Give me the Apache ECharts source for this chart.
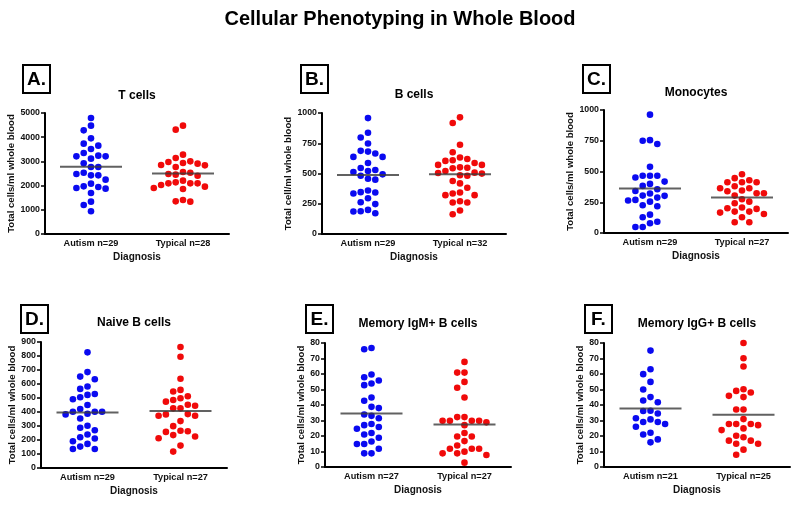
<!DOCTYPE html>
<html><head><meta charset="utf-8">
<script src="https://cdn.jsdelivr.net/npm/echarts@6/dist/echarts.min.js"></script>
<style>html,body{margin:0;padding:0;background:#fff}#c{width:800px;height:505px}</style>
</head><body><div id="c"></div>
<script>
// ---------- data ----------
const mainTitle = 'Cellular Phenotyping in Whole Blood';
const panelTitles = ['T cells', 'B cells', 'Monocytes', 'Naive B cells', 'Memory IgM+ B cells', 'Memory IgG+ B cells'];
const panelLetters = ['A.', 'B.', 'C.', 'D.', 'E.', 'F.'];
const yAxisNames = ['Total cells/ml whole blood', 'Total cell/ml whole blood', 'Total cells/ml whole blood',
  'Total cells/ml whole blood', 'Total cells/ml whole blood', 'Total cells/ml whole blood'];
const xAxisName = 'Diagnosis';
const categories = [
  ['Autism n=29', 'Typical n=28'],
  ['Autism n=29', 'Typical n=32'],
  ['Autism n=29', 'Typical n=27'],
  ['Autism n=29', 'Typical n=27'],
  ['Autism n=27', 'Typical n=27'],
  ['Autism n=21', 'Typical n=25']
];
const yMax = [5000, 1000, 1000, 900, 80, 80];
const yStep = [1000, 250, 250, 100, 10, 10];

const autismA = [4793,4477,4284,3953,3733,3650,3512,3347,3237,3209,3209,3113,2920,2769,2769,2534,2479,2424,2424,2245,2080,1970,1942,1901,1873,1694,1336,1198,937];
const typicalA = [4477,4311,3278,3140,3003,2975,2934,2906,2851,2837,2769,2562,2534,2479,2452,2410,2204,2135,2094,2094,2094,2025,1956,1901,1860,1405,1350,1336];
const linesA = [2780, 2505];

const autismB = [958,837,798,748,687,681,665,637,637,587,546,529,521,512,493,482,457,449,360,346,343,335,296,263,247,199,188,186,172];
const typicalB = [964,917,737,676,632,620,609,604,587,571,571,551,548,543,521,507,504,499,485,482,438,418,382,343,335,321,321,271,260,260,194,163];
const linesB = [488, 493];

const autismC = [962,755,750,723,538,465,465,465,451,418,399,383,356,342,321,304,302,288,269,264,255,226,217,149,128,92,79,49,49];
const typicalC = [478,446,429,413,413,413,380,364,364,345,340,323,323,304,274,255,242,207,201,196,174,174,166,155,128,87,87];
const linesC = [361, 288];

const autismD = [826,685,653,634,582,565,529,522,505,491,450,421,402,402,402,388,383,354,302,287,270,239,220,211,191,172,153,136,136];
const typicalD = [864,795,637,558,546,512,498,486,474,452,445,426,426,385,383,373,373,335,299,266,263,258,235,225,213,160,117];
const linesD = [397, 407];

const autismE = [76.8,76.0,59.7,57.9,55.8,53.9,52.8,44.8,42.7,38.8,38.0,33.9,33.0,31.5,27.7,27.0,25.8,24.7,21.9,21.0,18.9,16.5,14.8,14.8,11.8,8.8,8.8];
const typicalE = [67.8,60.9,60.9,54.9,51.1,44.8,32.2,32.2,29.8,29.8,29.8,29.8,28.8,27.0,21.9,19.7,19.7,16.7,13.9,11.8,11.8,11.8,9.9,8.8,8.8,7.7,2.8];
const linesE = [34.5, 27.5];

const autismF = [75.1,63.1,59.9,54.9,50.0,45.1,42.9,41.8,36.3,36.1,34.5,31.5,30.7,29.0,29.0,27.7,26.0,22.1,21.0,17.8,15.9];
const typicalF = [80.0,70.2,64.8,50.2,49.1,48.1,45.9,45.1,37.1,37.1,30.9,27.7,27.7,27.7,27.0,24.9,23.8,20.2,19.2,17.0,17.0,15.0,15.0,11.2,7.9];
const linesF = [37.8, 33.7];

const autismAll = [autismA, autismB, autismC, autismD, autismE, autismF];
const typicalAll = [typicalA, typicalB, typicalC, typicalD, typicalE, typicalF];
const linesAll = [linesA, linesB, linesC, linesD, linesE, linesF];

// ---------- layout / style ----------
const FONT = '"Liberation Sans", Arial, Helvetica, sans-serif';
const grids = [
  {left: 45, top: 113, width: 184, height: 121},
  {left: 322, top: 113, width: 184, height: 121},
  {left: 604, top: 110, width: 184, height: 123},
  {left: 41, top: 342, width: 186, height: 126},
  {left: 325, top: 343, width: 186, height: 124},
  {left: 604, top: 343, width: 186, height: 124}
];
const nameGaps = [25, 23, 29, 24, 16, 19];
const titlePos = [[137, 96], [414, 94.5], [696, 92.5], [134, 323], [418, 324], [697, 324]];
const boxPos = [[23, 65], [301, 65], [583, 65], [21, 305], [306, 305], [585, 305]];
const BLUE = '#0a0af0', RED = '#f00a0a';
const DOT = 6.6, COL = 7.3, SEP = 7.6;

// beeswarm: assign each point an integer column so dots don't overlap
function swarm(vals, pxPerUnit) {
  const order = vals.map((v, i) => i).sort((a, b) => vals[b] - vals[a]);
  const placed = [];
  const cols = new Array(vals.length).fill(0);
  order.forEach(i => {
    const y = vals[i] * pxPerUnit;
    for (let k = 0; k < 40; k++) {
      const c = k === 0 ? 0 : (k % 2 ? -Math.ceil(k / 2) : Math.ceil(k / 2));
      if (!placed.some(p => p.c === c && Math.abs(p.y - y) < SEP)) {
        placed.push({c, y}); cols[i] = c; break;
      }
    }
  });
  return cols;
}

const option = {
  animation: false,
  backgroundColor: '#fff',
  grid: grids.map(g => Object.assign({containLabel: false}, g)),
  xAxis: [], yAxis: [], series: [],
  graphic: []
};

option.graphic.push({
  type: 'text', x: 400, y: 19,
  style: {text: mainTitle, font: 'bold 20px ' + FONT, fill: '#000', align: 'center', verticalAlign: 'middle', textAlign: 'center', textVerticalAlign: 'middle'}
});

for (let p = 0; p < 6; p++) {
  const g = grids[p];
  const ppu = g.height / yMax[p];
  option.xAxis.push({
    type: 'category', gridIndex: p, data: categories[p],
    boundaryGap: true,
    axisLine: {lineStyle: {color: '#000', width: 2}},
    axisTick: {alignWithLabel: true, length: 4, lineStyle: {color: '#000', width: 1.5}},
    axisLabel: {fontFamily: FONT, fontWeight: 'bold', fontSize: 9.2, color: '#111', margin: 5},
    name: xAxisName, nameLocation: 'middle', nameGap: 18,
    nameTextStyle: {fontFamily: FONT, fontWeight: 'bold', fontSize: 10, color: '#111'},
    splitLine: {show: false}
  });
  option.yAxis.push({
    type: 'value', gridIndex: p, min: 0, max: yMax[p], interval: yStep[p],
    axisLine: {show: true, lineStyle: {color: '#000', width: 2}},
    axisTick: {show: true, length: 4, lineStyle: {color: '#000', width: 1.5}},
    axisLabel: {fontFamily: FONT, fontWeight: 'bold', fontSize: 8.8, color: '#111', margin: 5,
      formatter: v => String(v)},
    splitLine: {show: false},
    name: yAxisNames[p], nameLocation: 'middle', nameGap: nameGaps[p],
    nameTextStyle: {fontFamily: FONT, fontWeight: 'bold', fontSize: 9.6, color: '#111'}
  });
  [[autismAll[p], 0, BLUE], [typicalAll[p], 1, RED]].forEach(([vals, xi, color]) => {
    const cols = swarm(vals, ppu);
    option.series.push({
      type: 'scatter', xAxisIndex: p, yAxisIndex: p,
      symbol: 'circle', symbolSize: DOT,
      itemStyle: {color: color, opacity: 1},
      emphasis: {disabled: true},
      data: vals.map((v, i) => ({value: [xi, v], symbolOffset: [cols[i] * COL, 0]}))
    });
  });
  option.series.push({
    type: 'scatter', xAxisIndex: p, yAxisIndex: p, z: 5,
    symbol: 'rect', symbolSize: [62, 2],
    itemStyle: {color: '#3a3a3a'},
    emphasis: {disabled: true},
    data: linesAll[p].map((m, i) => [i, m])
  });
  option.graphic.push({
    type: 'text', x: titlePos[p][0], y: titlePos[p][1],
    style: {text: panelTitles[p], font: 'bold 12px ' + FONT, fill: '#000', align: 'center', verticalAlign: 'middle', textAlign: 'center', textVerticalAlign: 'middle'}
  });
  option.graphic.push({
    type: 'rect', x: boxPos[p][0], y: boxPos[p][1],
    shape: {width: 27, height: 28},
    style: {fill: '#fff', stroke: '#000', lineWidth: 2}
  });
  option.graphic.push({
    type: 'text', x: boxPos[p][0] + 13.5, y: boxPos[p][1] + 14.5,
    style: {text: panelLetters[p], font: 'bold 19px ' + FONT, fill: '#000', align: 'center', verticalAlign: 'middle', textAlign: 'center', textVerticalAlign: 'middle'}
  });
}

const chart = echarts.init(document.getElementById('c'), null, {renderer: 'canvas'});
chart.setOption(option);
</script>
</body></html>
